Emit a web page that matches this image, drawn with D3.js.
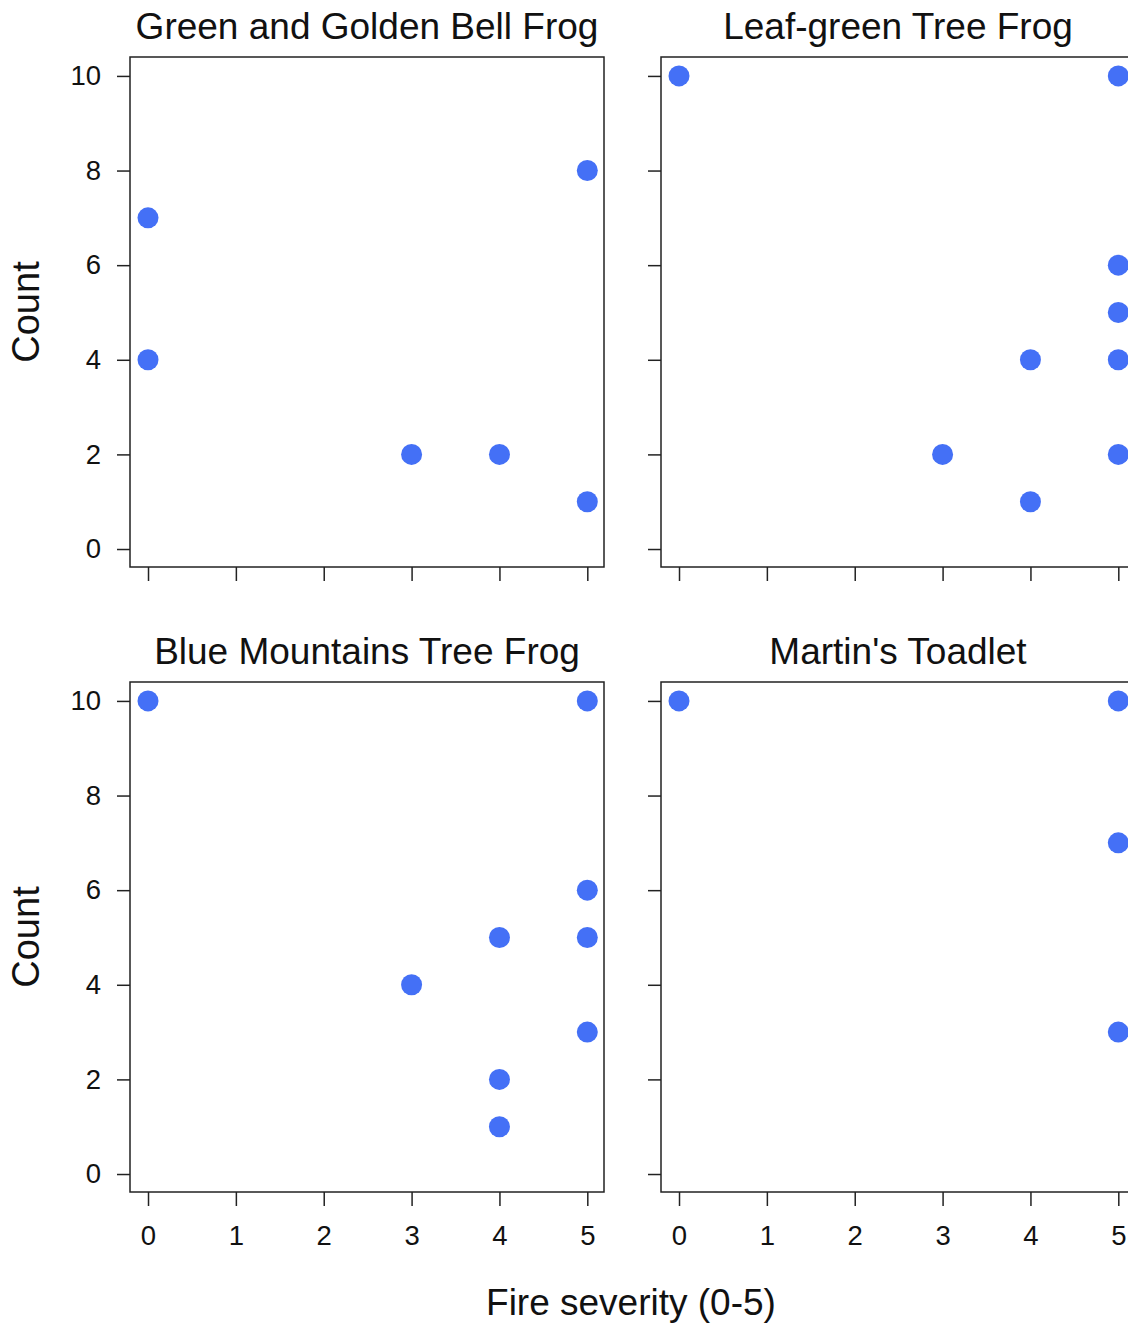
<!DOCTYPE html>
<html>
<head>
<meta charset="utf-8">
<script src="https://cdn.jsdelivr.net/npm/d3@7"></script>
<style>
  body { margin: 0; background: #fff; overflow: hidden; }
  text { font-family: "Liberation Sans", Arial, sans-serif; fill: #111; }
</style>
</head>
<body>
<div id="chart"></div>
<script>
// Panel titles
let titles = ["Green and Golden Bell Frog", "Leaf-green Tree Frog",
              "Blue Mountains Tree Frog", "Martin's Toadlet"];

// Points per panel: fire severity and count
let bellSeverity = [0, 0, 3, 4, 5, 5];
let bellCount    = [7, 4, 2, 2, 8, 1];

let leafSeverity = [0, 5, 5, 5, 5, 4, 3, 5, 4];
let leafCount    = [10, 10, 6, 5, 4, 4, 2, 2, 1];

let blueSeverity = [0, 5, 5, 4, 5, 3, 5, 4, 4];
let blueCount    = [10, 10, 6, 5, 5, 4, 3, 2, 1];

let toadSeverity = [0, 5, 5, 5];
let toadCount    = [10, 10, 7, 3];

let xTicks = [0, 1, 2, 3, 4, 5];
let yTicks = [0, 2, 4, 6, 8, 10];

let svgWidth = 1128;
let svgHeight = 1324;

let panelW = 474;
let panelH = 510;
let lefts = [130, 661];
let tops = [57, 682];

let svg = d3.select("#chart")
    .append("svg")
    .attr("width", svgWidth)
    .attr("height", svgHeight);

let panels = [
    {title: titles[0], sev: bellSeverity, cnt: bellCount, col: 0, row: 0},
    {title: titles[1], sev: leafSeverity, cnt: leafCount, col: 1, row: 0},
    {title: titles[2], sev: blueSeverity, cnt: blueCount, col: 0, row: 1},
    {title: titles[3], sev: toadSeverity, cnt: toadCount, col: 1, row: 1}
];

let xScale = d3.scaleLinear().domain([-0.205, 5.19]).range([0, panelW]);
let yScale = d3.scaleLinear().domain([-0.38, 10.4]).range([panelH, 0]);

panels.forEach(p => {
    let g = svg.append("g")
        .attr("transform", `translate(${lefts[p.col]}, ${tops[p.row]})`);

    // x axis, offset below the box like base R
    let xAxis = d3.axisBottom(xScale)
        .tickValues(xTicks)
        .tickSize(14)
        .tickPadding(19)
        .tickFormat(p.row === 1 ? d3.format("d") : "");
    let xg = g.append("g")
        .attr("transform", `translate(0, ${panelH})`)
        .call(xAxis);

    let yAxis = d3.axisLeft(yScale)
        .tickValues(yTicks)
        .tickSize(13)
        .tickPadding(16)
        .tickFormat(p.col === 0 ? d3.format("d") : "");
    let yg = g.append("g").call(yAxis);

    [xg, yg].forEach(a => {
        a.select(".domain").remove();
        a.selectAll("line").attr("stroke", "#222").attr("stroke-width", 1.5);
        a.selectAll("text").attr("font-size", 27.5).attr("fill", "#111");
    });

    g.append("rect")
        .attr("width", panelW)
        .attr("height", panelH)
        .attr("fill", "none")
        .attr("stroke", "#222")
        .attr("stroke-width", 1.5);

    g.selectAll("circle")
        .data(p.sev.map((s, i) => ({s: s, c: p.cnt[i]})))
        .join("circle")
        .attr("cx", d => xScale(d.s))
        .attr("cy", d => yScale(d.c))
        .attr("r", 10.5)
        .attr("fill", "#4470f6");

    g.append("text")
        .attr("x", panelW / 2)
        .attr("y", -18)
        .attr("text-anchor", "middle")
        .attr("font-size", 37)
        .text(p.title);

    if (p.col === 0) {
        g.append("text")
            .attr("transform", `translate(-91, ${panelH / 2}) rotate(-90)`)
            .attr("text-anchor", "middle")
            .attr("font-size", 38)
            .text("Count");
    }
});

svg.append("text")
    .attr("x", 631)
    .attr("y", 1315)
    .attr("text-anchor", "middle")
    .attr("font-size", 37)
    .text("Fire severity (0-5)");
</script>
</body>
</html>
